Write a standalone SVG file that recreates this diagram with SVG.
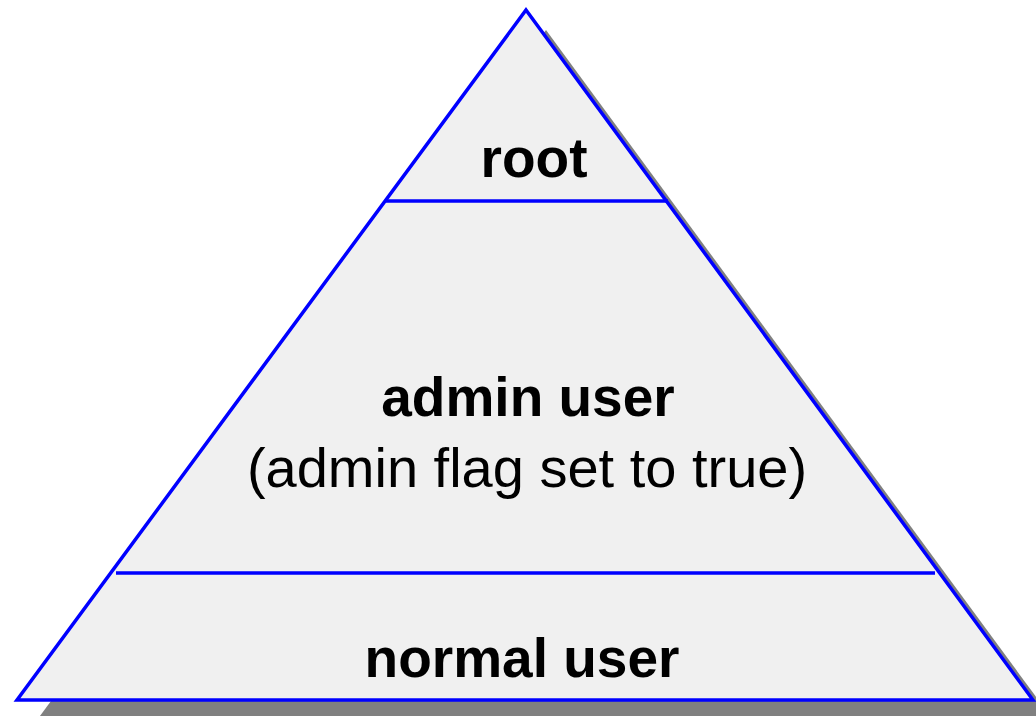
<svg xmlns="http://www.w3.org/2000/svg" width="1036" height="716" viewBox="0 0 1036 716">
  <style>
    .tier { fill: #f0f0f0; stroke: #0000ff; stroke-width: 3.5; stroke-linejoin: miter; }
    .divider { stroke: #0000ff; stroke-width: 3.5; fill: none; }
    .label { font-family: "Liberation Sans", Arial, sans-serif; font-size: 55px; fill: #000000; text-anchor: middle; }
    .bold { font-weight: bold; }
    .note { font-size: 56px; }
  </style>
  <defs>
    <polygon id="pyramid" points="526,10 1033,700 17,700"/>
  </defs>
  <rect width="1036" height="716" fill="#ffffff"/>
  <!-- drop shadow -->
  <use href="#pyramid" transform="translate(20,20)" fill="#808080"/>
  <!-- pyramid body -->
  <use href="#pyramid" class="tier"/>
  <g id="connectors">
    <line class="divider" x1="386" y1="201" x2="668" y2="201"/>
    <line class="divider" x1="116" y1="573" x2="935" y2="573"/>
  </g>
  <g id="root">
    <text class="label bold" x="534" y="177">root</text>
  </g>
  <g id="admin">
    <text class="label bold" x="528" y="416">admin user</text>
    <text class="label note" x="527" y="487">(admin flag set to true)</text>
  </g>
  <g id="normal">
    <text class="label bold" x="522" y="677">normal user</text>
  </g>
</svg>
